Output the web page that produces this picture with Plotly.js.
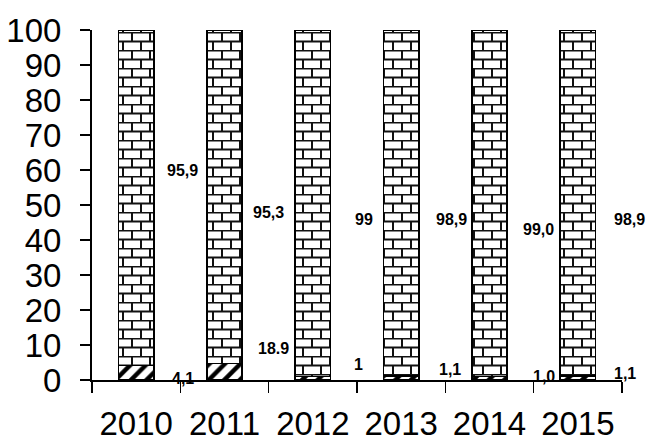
<!DOCTYPE html>
<html>
<head>
<meta charset="utf-8">
<script src="https://cdn.plot.ly/plotly-3.0.1.min.js"></script>
<style>html,body{margin:0;padding:0;background:#fff;}#chart{width:646px;height:443px;}</style>
</head>
<body>
<div id="chart"></div>
<script>
// Data
var years = ['2010', '2011', '2012', '2013', '2014', '2015'];
var bottomValues = [4.1, 4.7, 1.0, 1.1, 1.0, 1.1];
var topValues = [95.9, 95.3, 99.0, 98.9, 99.0, 98.9];
var topLabels = ['95,9', '95,3', '99', '98,9', '99,0', '98,9'];
var bottomLabels = ['4,1', '18.9', '1', '1,1', '1,0', '1,1'];

// Label placement (layout, not data): category-index position and y value
var topLabelX = [0.52, 1.50, 2.58, 3.57, 4.56, 5.58];
var topLabelY = [60, 48, 46, 46, 43, 46];
var bottomLabelX = [0.53, 1.56, 2.52, 3.55, 4.62, 5.53];
var bottomLabelY = [0.3, 9.1, 4.3, 2.9, 0.9, 2.0];

var nCat = years.length;
function toPaper(ix) { return (ix + 0.5) / nCat; }

var traces = [
  {
    type: 'bar', x: years, y: bottomValues, hoverinfo: 'skip',
    marker: {color: '#ffffff', line: {color: '#000', width: 1.5},
      pattern: {shape: '/', size: 11, solidity: 0.4, fgcolor: '#000', bgcolor: '#fff'}}
  },
  {
    type: 'bar', x: years, y: topValues, hoverinfo: 'skip',
    marker: {color: '#ffffff', line: {color: '#000', width: 1.5},
      pattern: {shape: '+', size: 9, solidity: 0.2, fgcolor: '#000', bgcolor: '#fff'}}
  }
];

var annotations = [];
var labelFont = {family: 'Liberation Sans, Arial, sans-serif', size: 16, color: '#000'};
for (var i = 0; i < nCat; i++) {
  annotations.push({x: toPaper(topLabelX[i]), y: topLabelY[i], xref: 'paper', yref: 'y', xanchor: 'center', yanchor: 'middle', text: '<b>' + topLabels[i] + '</b>', showarrow: false, font: labelFont});
  annotations.push({x: toPaper(bottomLabelX[i]), y: bottomLabelY[i], xref: 'paper', yref: 'y', xanchor: 'center', yanchor: 'middle', text: '<b>' + bottomLabels[i] + '</b>', showarrow: false, font: labelFont});
}

var bigFont = {family: 'Liberation Sans, Arial, sans-serif', size: 33, color: '#000'};

var layout = {
  width: 646, height: 443,
  margin: {l: 92, r: 24, t: 30, b: 63},
  paper_bgcolor: '#fff', plot_bgcolor: '#fff',
  barmode: 'stack', bargap: 0.6, showlegend: false,
  xaxis: {
    type: 'category', range: [-0.5, 5.5], showgrid: false, zeroline: false,
    showline: true, linecolor: '#000', linewidth: 1.5,
    ticks: 'outside', tickson: 'boundaries', ticklen: 11, tickwidth: 1.5, tickcolor: '#000',
    tickfont: bigFont, tickangle: 0, ticklabelstandoff: 14
  },
  yaxis: {
    range: [0, 100], dtick: 10, showgrid: false, zeroline: false,
    showline: true, linecolor: '#000', linewidth: 2,
    ticks: 'outside', ticklen: 10, tickwidth: 2, tickcolor: '#000',
    tickfont: bigFont, ticklabelstandoff: 12
  },
  annotations: annotations
};

Plotly.newPlot('chart', traces, layout, {staticPlot: true}).then(function () {
  var svg = document.querySelector('#chart svg.main-svg');
  var ns = 'http://www.w3.org/2000/svg';
  var defs = svg.querySelector('defs');
  var pat = document.createElementNS(ns, 'pattern');
  pat.setAttribute('id', 'brickPattern');
  pat.setAttribute('patternUnits', 'userSpaceOnUse');
  pat.setAttribute('width', '18');
  pat.setAttribute('height', '18');
  pat.setAttribute('y', '2');
  var bg = document.createElementNS(ns, 'rect');
  bg.setAttribute('width', '18'); bg.setAttribute('height', '18'); bg.setAttribute('fill', '#fff');
  pat.appendChild(bg);
  var p = document.createElementNS(ns, 'path');
  p.setAttribute('d', 'M0,0.5H18M0,9.5H18M4,0V9M13,9V18');
  p.setAttribute('stroke', '#111');
  p.setAttribute('stroke-width', '2');
  p.setAttribute('fill', 'none');
  pat.appendChild(p);
  defs.appendChild(pat);
  var tr = document.querySelectorAll('#chart .barlayer .trace');
  if (tr.length > 1) {
    tr[1].querySelectorAll('path').forEach(function (el) { el.style.fill = 'url(#brickPattern)'; });
  }
});
</script>
</body>
</html>
